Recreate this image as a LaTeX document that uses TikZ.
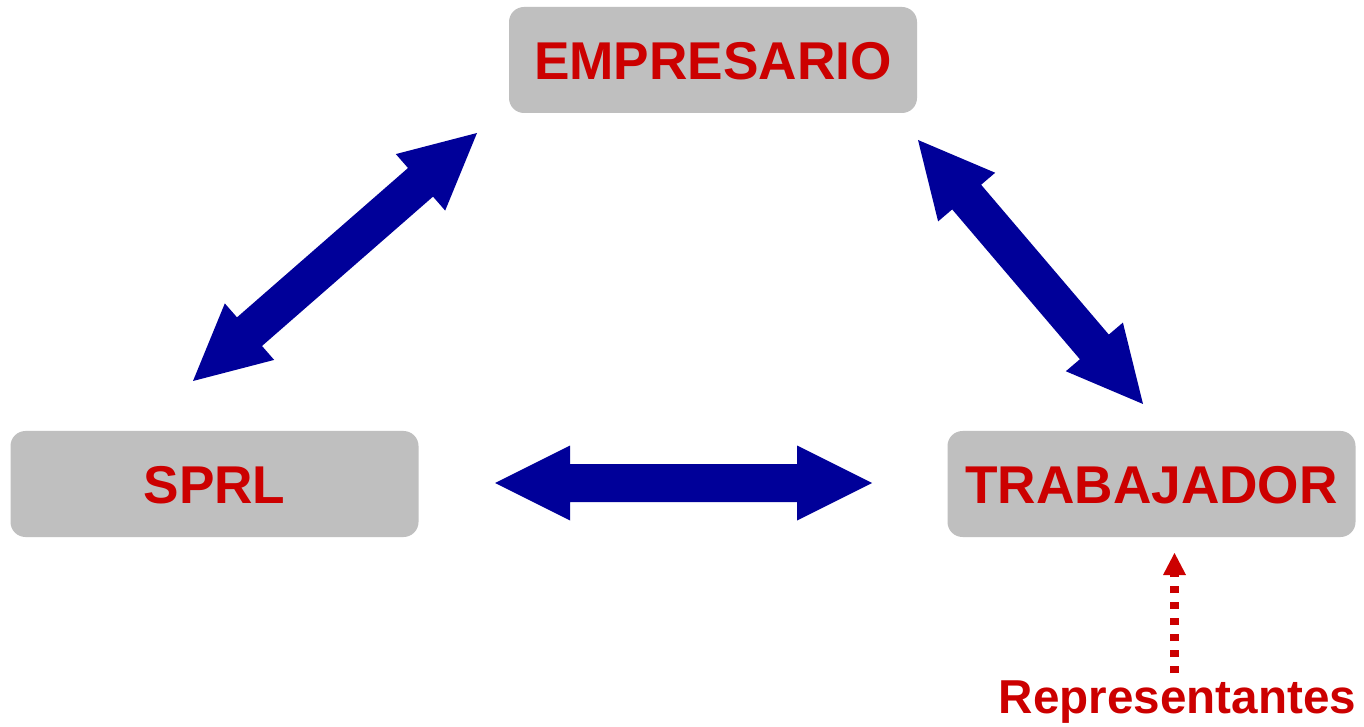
\documentclass[tikz,border=0pt]{standalone}
\usepackage{fontspec}
\setmainfont{Liberation Sans}
\usetikzlibrary{calc}
\definecolor{boxgray}{HTML}{BFBFBF}
\definecolor{txtred}{HTML}{CC0000}
\definecolor{arrblue}{HTML}{000099}
\tikzset{
  box/.style={fill=boxgray, rounded corners=15pt, minimum width=408pt, minimum height=106pt, inner sep=0pt},
  boxtext/.style={text=txtred, font=\fontsize{53.2}{60}\selectfont\bfseries, inner sep=0pt},
  blockarrow/.style={fill=arrblue},
  dotconn/.style={draw=txtred, line width=8.5pt, dash pattern=on 7.5pt off 8.5pt},
  dothead/.style={fill=txtred},
}
\newcommand\blockarrow[3]{%
  \coordinate (#1ha) at ($(#2)!75pt!(#3)$);
  \coordinate (#1hb) at ($(#3)!75pt!(#2)$);
  \fill[blockarrow] (#2) -- ($(#1ha)!37.5pt!90:(#3)$) -- ($(#1ha)!19pt!90:(#3)$)
    -- ($(#1hb)!19pt!-90:(#2)$) -- ($(#1hb)!37.5pt!-90:(#2)$) -- (#3)
    -- ($(#1hb)!37.5pt!90:(#2)$) -- ($(#1hb)!19pt!90:(#2)$)
    -- ($(#1ha)!19pt!-90:(#3)$) -- ($(#1ha)!37.5pt!-90:(#3)$) -- cycle;
}
\begin{document}
\begin{tikzpicture}[x=1pt,y=1pt]
\useasboundingbox (0,0) rectangle (1364,726);
\fill[white] (0,0) rectangle (1364,726);
% boxes
\node[box] (emp) at (713,666) {};
\node[box] (sprl) at (214.5,242) {};
\node[box] (trab) at (1151.5,242) {};
\node[boxtext] (empt) at ($(emp.center)+(0,-1.5)$) {EMPRESARIO};
\node[boxtext] (sprlt) at ($(sprl.center)+(0,-1)$) {SPRL};
\node[boxtext] (trabt) at ($(trab.center)+(0,-1)$) {TRABAJADOR};
% block arrows
\coordinate (hA) at (495,243);
\coordinate (hB) at (872,243);
\coordinate (dA) at (193,345);
\coordinate (dB) at (477,593);
\coordinate (eA) at (918,586);
\coordinate (eB) at (1143,322);
\blockarrow{h}{hA}{hB}
\blockarrow{d}{dA}{dB}
\blockarrow{e}{eA}{eB}
% representantes
\node[text=txtred, font=\fontsize{47.6}{54}\selectfont\bfseries, inner sep=0pt, anchor=base] (rep) at (1177.5,13) {Representantes};
\coordinate (rstart) at (1174.5,53);
\coordinate (rbase) at (1174.5,151);
\coordinate (rtip) at (1174.5,173);
\draw[dotconn] (rstart) -- (rbase);
\fill[dothead] (rtip) -- ($(rbase)+(-11.5,0)$) -- ($(rbase)+(11.5,0)$) -- cycle;
\end{tikzpicture}
\end{document}
